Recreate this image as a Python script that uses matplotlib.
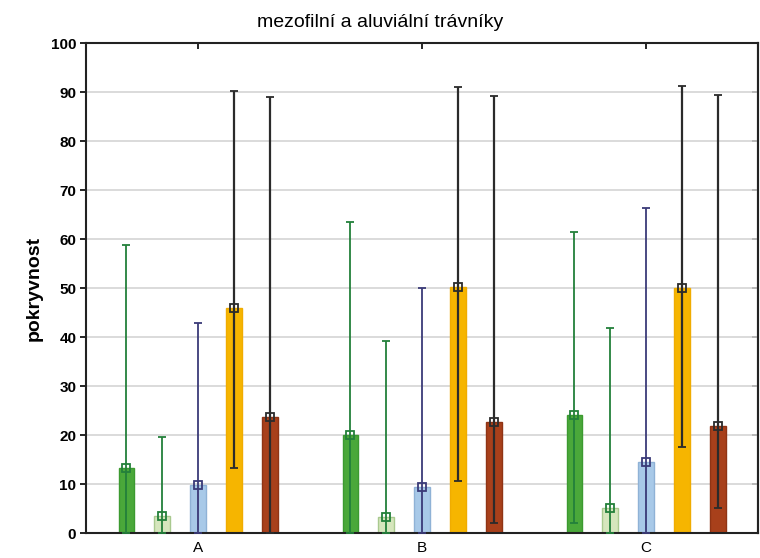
import numpy as np
import matplotlib
matplotlib.use("Agg")
import matplotlib.pyplot as plt

plt.rcParams["font.family"] = ["Liberation Sans", "DejaVu Sans"]

categories = ["A", "B", "C"]
series_names = ["s1", "s2", "s3", "s4", "s5"]

# mean value and whisker ends per series, one entry per category
means = [
    [13.3, 20.0, 24.1],
    [3.5, 3.3, 5.1],
    [9.8, 9.4, 14.5],
    [45.9, 50.2, 50.1],
    [23.7, 22.7, 21.8],
]
upper = [
    [58.8, 63.5, 61.5],
    [19.6, 39.2, 41.8],
    [42.9, 50.0, 66.3],
    [90.2, 91.0, 91.3],
    [89.0, 89.2, 89.5],
]
lower = [
    [0.0, 0.0, 2.0],
    [0.0, 0.0, 0.0],
    [0.0, 0.0, 0.0],
    [13.3, 10.6, 17.5],
    [0.0, 2.0, 5.1],
]

bar_colors = ["#4aa83a", "#d6e6bd", "#a8c9e8", "#f6b500", "#a8401b"]
bar_edges = ["#3c9a30", "#a9c98f", "#8fb2d6", "#f0ac00", "#8f3415"]
err_colors = ["#23803a", "#23803a", "#3a3a78", "#2b2b2b", "#2b2b2b"]

fig = plt.figure(figsize=(7.6, 5.58), dpi=100)
ax = fig.add_axes([0.1132, 0.0448, 0.8842, 0.878])

x = np.arange(len(categories))
step = 0.16
width = 0.07

for i in range(len(series_names)):
    xs = x + (i - 2) * step
    m = np.array(means[i])
    hi = np.array(upper[i])
    lo = np.array(lower[i])
    ax.bar(xs, m, width=width, color=bar_colors[i], edgecolor=bar_edges[i],
           linewidth=1.0, zorder=2)
    ax.errorbar(xs, m, yerr=[m - lo, hi - m], fmt="s", ms=6, mfc="none",
                mec=err_colors[i], mew=1.3, ecolor=err_colors[i],
                elinewidth=1.6 if i >= 3 else 1.3, capsize=3, capthick=1.5,
                zorder=3)

ax.set_xlim(-0.5, 2.5)
ax.set_ylim(0, 100)
ax.set_yticks(np.arange(0, 101, 10))
ax.set_xticks(x)
ax.set_xticklabels(categories, fontsize=11)
ax.yaxis.grid(True, color="#d4d4d4", linewidth=1.2, zorder=0)
ax.set_axisbelow(True)

for lab in ax.get_yticklabels():
    lab.set_fontweight("bold")
    lab.set_fontsize(11)

ax.tick_params(axis="y", direction="out", length=4, width=1.2, pad=3)
ax.tick_params(axis="x", direction="in", length=4, width=1.2, top=True,
               bottom=False, pad=6)

# inward ticks on the right side, no labels
right = ax.secondary_yaxis("right")
right.set_yticks(np.arange(0, 101, 10))
right.tick_params(direction="in", length=4, width=1.2, labelright=False)

for side in ["left", "right", "top", "bottom"]:
    ax.spines[side].set_linewidth(1.5)
    ax.spines[side].set_color("#222222")
right.spines["right"].set_linewidth(1.5)
right.spines["right"].set_color("#222222")

ax.set_ylabel("pokryvnost", fontsize=14, fontweight="bold", labelpad=6)
fig.suptitle("mezofilní a aluviální trávníky", y=0.975, fontsize=14)

fig.savefig("out.png", dpi=100)
